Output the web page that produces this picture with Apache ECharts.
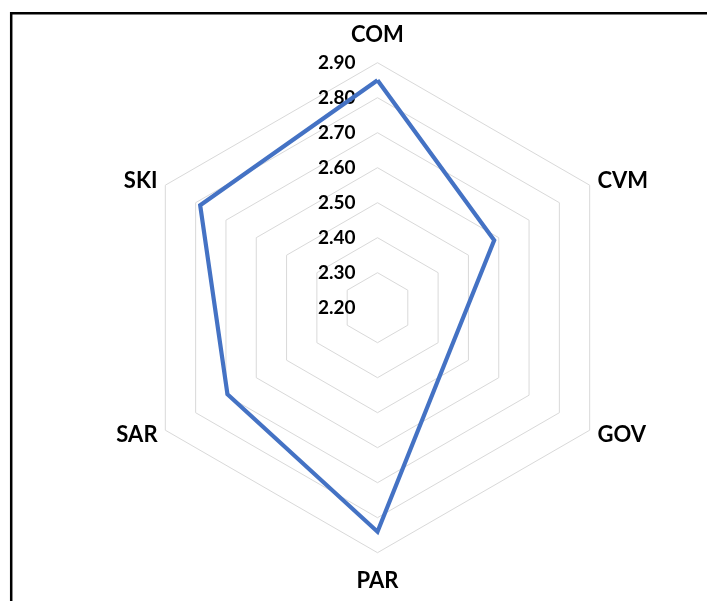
<!DOCTYPE html>
<html>
<head>
<meta charset="utf-8">
<script src="https://cdn.jsdelivr.net/npm/echarts@6/dist/echarts.min.js"></script>
<style>
html,body{margin:0;padding:0;background:#fff;}
#chart{width:707px;height:601px;}
</style>
</head>
<body>
<div id="chart"></div>
<script>
// Categories listed clockwise from the top, as in the picture
const indicatorNames = ['COM', 'CVM', 'GOV', 'PAR', 'SAR', 'SKI'];
const seriesValues = [2.85, 2.585, 2.44, 2.84, 2.695, 2.785];
const axisMin = 2.2;
const axisMax = 2.9;
const tickLabels = ['2.20', '2.30', '2.40', '2.50', '2.60', '2.70', '2.80', '2.90'];

// ECharts lays radar axes counter-clockwise; reverse all but the first to run clockwise
const order = [0].concat(indicatorNames.map((_, i) => i).slice(1).reverse());

const chart = echarts.init(document.getElementById('chart'));
const indicator = order.map((k, i) => ({
  name: indicatorNames[k],
  min: axisMin,
  max: axisMax,
  axisLabel: { show: i === 0 }
}));
const values = order.map(k => seriesValues[k]);

chart.setOption({
  animation: false,
  backgroundColor: '#fff',
  graphic: [{
    type: 'rect',
    shape: { x: 11.2, y: 13.3, width: 900, height: 900 },
    style: { fill: 'none', stroke: '#000', lineWidth: 2.5 },
    silent: true
  }],
  radar: {
    center: [377.5, 307.7],
    radius: 245,
    startAngle: 90,
    shape: 'polygon',
    splitNumber: 7,
    nameGap: 9,
    indicator: indicator,
    axisName: {
      formatter: function (name) {
        if (name === 'COM') return '{nm|' + name + '}\n{sp| }';
        if (name === 'PAR') return '{sp| }\n{nm|' + name + '}';
        return '{nm|' + name + '}';
      },
      rich: {
        nm: { fontFamily: 'Lato', fontWeight: 'bold', fontSize: 22, color: '#000', lineHeight: 2 },
        sp: { fontSize: 2, lineHeight: 18 }
      }
    },
    axisLine: { show: false },
    axisTick: { show: false },
    axisLabel: {
      show: true,
      fontFamily: 'Lato',
      fontWeight: 'bold',
      fontSize: 19,
      color: '#000',
      margin: 22,
      formatter: function (v) {
        const idx = Math.round((v - axisMin) * 10);
        return tickLabels[idx] !== undefined ? tickLabels[idx] : v.toFixed(2);
      }
    },
    splitLine: { lineStyle: { color: '#d9d9d9', width: 1 } },
    splitArea: { show: false }
  },
  series: [{
    type: 'radar',
    symbol: 'none',
    lineStyle: { color: '#4472C4', width: 4.2, join: 'miter' },
    data: [{ value: values, name: 'Score' }]
  }]
});
</script>
</body>
</html>
